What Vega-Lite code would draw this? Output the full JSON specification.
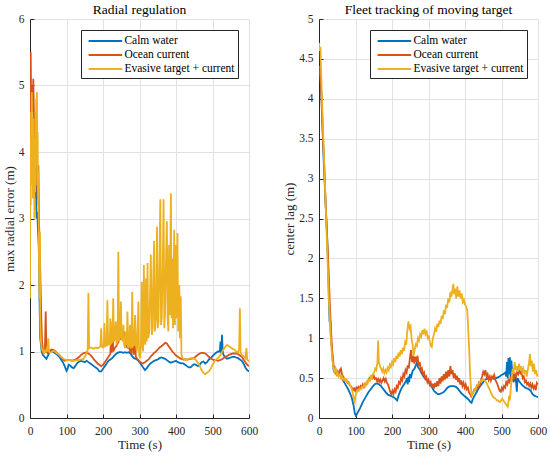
{
  "$schema": "https://vega.github.io/schema/vega-lite/v6.json",
  "padding": {"left": 3, "top": 2, "right": 2, "bottom": 4},
  "spacing": 25,
  "config": {
    "view": {"stroke": null},
    "axis": {"grid": true, "gridColor": "#e2e2e2", "gridWidth": 1, "domainColor": "#262626", "tickColor": "#262626", "tickSize": -4, "labelColor": "#262626", "labelFont": "Liberation Serif, serif", "labelFontSize": 11.5, "titleFont": "Liberation Serif, serif", "titleFontSize": 13, "titleFontWeight": "normal", "titleColor": "#262626", "labelFlush": false, "labelPadding": 10, "titlePadding": 2},
    "axisX": {"labelPadding": 11},
    "title": {"font": "Liberation Serif, serif", "fontSize": 13.5, "fontWeight": "normal", "color": "black", "offset": -3},
    "legend": {"orient": "top-right", "offset": 11, "strokeColor": "#262626", "fillColor": "white", "padding": 3, "symbolType": "M-2.4,0H2.4", "symbolSize": 196, "symbolOffset": 13.4, "labelOffset": 11, "symbolStrokeWidth": 2, "labelFont": "Liberation Serif, serif", "labelFontSize": 11.5, "labelColor": "black", "rowPadding": 0}
  },
  "datasets": {
    "LC": [{"t":0,"v":4.6},{"t":2,"v":3.9},{"t":4,"v":4.4},{"t":6,"v":3.6},{"t":8,"v":4.1},{"t":10,"v":3.5},{"t":12,"v":3.8},{"t":14,"v":3.3},{"t":16,"v":3.6},{"t":18,"v":3.0},{"t":20,"v":3.1},{"t":22,"v":2.8},{"t":24,"v":2.6},{"t":26,"v":1.8},{"t":28,"v":1.2},{"t":30,"v":1.1},{"t":32,"v":1.0},{"t":35,"v":0.95},{"t":40,"v":0.92},{"t":45,"v":0.89},{"t":50,"v":0.95},{"t":55,"v":1.0},{"t":60,"v":1.01},{"t":65,"v":0.99},{"t":70,"v":0.97},{"t":75,"v":0.95},{"t":80,"v":0.92},{"t":85,"v":0.88},{"t":90,"v":0.84},{"t":95,"v":0.78},{"t":100,"v":0.71},{"t":103,"v":0.74},{"t":106,"v":0.8},{"t":110,"v":0.79},{"t":115,"v":0.76},{"t":120,"v":0.75},{"t":125,"v":0.79},{"t":130,"v":0.83},{"t":135,"v":0.85},{"t":140,"v":0.86},{"t":145,"v":0.85},{"t":150,"v":0.84},{"t":155,"v":0.86},{"t":160,"v":0.84},{"t":165,"v":0.82},{"t":170,"v":0.8},{"t":175,"v":0.78},{"t":180,"v":0.76},{"t":185,"v":0.74},{"t":190,"v":0.7},{"t":195,"v":0.7},{"t":200,"v":0.74},{"t":205,"v":0.78},{"t":210,"v":0.82},{"t":215,"v":0.86},{"t":220,"v":0.88},{"t":225,"v":0.9},{"t":230,"v":0.93},{"t":235,"v":0.96},{"t":240,"v":0.98},{"t":245,"v":0.99},{"t":250,"v":0.99},{"t":255,"v":0.98},{"t":260,"v":0.99},{"t":265,"v":0.98},{"t":270,"v":0.99},{"t":275,"v":0.97},{"t":280,"v":0.93},{"t":285,"v":0.9},{"t":290,"v":0.89},{"t":295,"v":0.87},{"t":300,"v":0.84},{"t":305,"v":0.8},{"t":310,"v":0.76},{"t":315,"v":0.72},{"t":320,"v":0.75},{"t":325,"v":0.79},{"t":330,"v":0.82},{"t":335,"v":0.84},{"t":340,"v":0.86},{"t":345,"v":0.87},{"t":350,"v":0.88},{"t":355,"v":0.9},{"t":360,"v":0.91},{"t":365,"v":0.9},{"t":370,"v":0.89},{"t":375,"v":0.87},{"t":380,"v":0.85},{"t":385,"v":0.83},{"t":390,"v":0.84},{"t":395,"v":0.85},{"t":400,"v":0.86},{"t":405,"v":0.84},{"t":410,"v":0.83},{"t":415,"v":0.82},{"t":420,"v":0.82},{"t":425,"v":0.8},{"t":430,"v":0.78},{"t":435,"v":0.76},{"t":440,"v":0.76},{"t":445,"v":0.79},{"t":450,"v":0.81},{"t":455,"v":0.8},{"t":460,"v":0.78},{"t":465,"v":0.8},{"t":470,"v":0.84},{"t":475,"v":0.85},{"t":480,"v":0.82},{"t":485,"v":0.84},{"t":490,"v":0.88},{"t":495,"v":0.9},{"t":500,"v":0.93},{"t":505,"v":0.96},{"t":510,"v":0.98},{"t":515,"v":1.0},{"t":520,"v":1.0},{"t":522,"v":1.15},{"t":524,"v":0.98},{"t":526,"v":1.25},{"t":528,"v":1.0},{"t":530,"v":0.95},{"t":535,"v":0.91},{"t":540,"v":0.89},{"t":545,"v":0.9},{"t":550,"v":0.91},{"t":555,"v":0.92},{"t":560,"v":0.92},{"t":565,"v":0.91},{"t":570,"v":0.9},{"t":575,"v":0.88},{"t":580,"v":0.86},{"t":585,"v":0.82},{"t":590,"v":0.76},{"t":595,"v":0.72},{"t":600,"v":0.7}],
    "LO": [{"t":0,"v":4.0},{"t":2,"v":5.5},{"t":3,"v":4.8},{"t":5,"v":5.0},{"t":7,"v":4.6},{"t":9,"v":5.1},{"t":11,"v":4.5},{"t":13,"v":4.2},{"t":15,"v":4.4},{"t":17,"v":3.9},{"t":19,"v":3.6},{"t":21,"v":3.3},{"t":23,"v":3.8},{"t":25,"v":2.9},{"t":27,"v":2.5},{"t":29,"v":2.0},{"t":31,"v":1.5},{"t":33,"v":1.15},{"t":35,"v":1.05},{"t":38,"v":1.0},{"t":41,"v":1.05},{"t":43,"v":1.6},{"t":45,"v":1.0},{"t":48,"v":0.98},{"t":52,"v":1.0},{"t":56,"v":1.02},{"t":60,"v":1.03},{"t":65,"v":1.02},{"t":70,"v":1.0},{"t":75,"v":0.97},{"t":80,"v":0.95},{"t":85,"v":0.92},{"t":90,"v":0.88},{"t":95,"v":0.86},{"t":100,"v":0.87},{"t":105,"v":0.87},{"t":110,"v":0.87},{"t":115,"v":0.86},{"t":120,"v":0.87},{"t":125,"v":0.88},{"t":130,"v":0.9},{"t":135,"v":0.92},{"t":140,"v":0.95},{"t":145,"v":0.97},{"t":150,"v":0.98},{"t":155,"v":0.99},{"t":160,"v":0.97},{"t":165,"v":0.95},{"t":170,"v":0.92},{"t":175,"v":0.88},{"t":180,"v":0.85},{"t":185,"v":0.82},{"t":190,"v":0.8},{"t":195,"v":0.78},{"t":200,"v":0.8},{"t":205,"v":0.84},{"t":210,"v":0.88},{"t":215,"v":0.92},{"t":220,"v":0.96},{"t":222,"v":1.2},{"t":224,"v":0.98},{"t":226,"v":1.45},{"t":228,"v":1.0},{"t":232,"v":1.05},{"t":236,"v":1.08},{"t":240,"v":1.12},{"t":245,"v":1.18},{"t":250,"v":1.2},{"t":255,"v":1.17},{"t":258,"v":1.3},{"t":260,"v":1.12},{"t":265,"v":1.07},{"t":270,"v":1.05},{"t":272,"v":1.25},{"t":274,"v":1.0},{"t":278,"v":0.98},{"t":282,"v":1.3},{"t":284,"v":0.95},{"t":288,"v":1.15},{"t":290,"v":0.92},{"t":295,"v":0.88},{"t":300,"v":0.85},{"t":305,"v":0.83},{"t":310,"v":0.82},{"t":315,"v":0.84},{"t":320,"v":0.86},{"t":325,"v":0.88},{"t":330,"v":0.92},{"t":335,"v":0.95},{"t":340,"v":0.98},{"t":345,"v":1.0},{"t":350,"v":1.03},{"t":355,"v":1.06},{"t":360,"v":1.08},{"t":365,"v":1.1},{"t":370,"v":1.13},{"t":375,"v":1.12},{"t":380,"v":1.08},{"t":385,"v":1.04},{"t":390,"v":1.0},{"t":395,"v":0.97},{"t":400,"v":0.94},{"t":405,"v":0.92},{"t":410,"v":0.9},{"t":415,"v":0.89},{"t":420,"v":0.88},{"t":430,"v":0.88},{"t":440,"v":0.89},{"t":450,"v":0.9},{"t":455,"v":0.93},{"t":460,"v":0.95},{"t":465,"v":0.97},{"t":470,"v":0.98},{"t":475,"v":0.98},{"t":480,"v":0.97},{"t":485,"v":0.95},{"t":490,"v":0.92},{"t":495,"v":0.9},{"t":500,"v":0.88},{"t":505,"v":0.87},{"t":510,"v":0.87},{"t":515,"v":0.86},{"t":520,"v":0.87},{"t":525,"v":0.88},{"t":530,"v":0.9},{"t":535,"v":0.92},{"t":540,"v":0.93},{"t":545,"v":0.95},{"t":550,"v":0.96},{"t":555,"v":0.97},{"t":560,"v":0.97},{"t":565,"v":0.97},{"t":570,"v":0.96},{"t":575,"v":0.94},{"t":580,"v":0.92},{"t":585,"v":0.88},{"t":590,"v":0.84},{"t":595,"v":0.8},{"t":600,"v":0.78}],
    "LE": [{"t":0,"v":1.8},{"t":1,"v":4.2},{"t":2,"v":3.2},{"t":3,"v":4.6},{"t":4,"v":3.5},{"t":5,"v":4.9},{"t":6,"v":3.8},{"t":7,"v":4.4},{"t":8,"v":3.3},{"t":9,"v":4.5},{"t":10,"v":3.6},{"t":11,"v":4.2},{"t":12,"v":3.0},{"t":13,"v":4.0},{"t":14,"v":3.4},{"t":15,"v":4.6},{"t":16,"v":3.5},{"t":17,"v":4.8},{"t":18,"v":4.0},{"t":19,"v":4.9},{"t":20,"v":3.8},{"t":21,"v":4.3},{"t":22,"v":3.2},{"t":23,"v":3.7},{"t":24,"v":2.6},{"t":25,"v":2.2},{"t":26,"v":1.8},{"t":27,"v":2.8},{"t":28,"v":1.5},{"t":29,"v":1.3},{"t":30,"v":1.15},{"t":32,"v":1.05},{"t":35,"v":1.0},{"t":38,"v":1.02},{"t":40,"v":0.98},{"t":43,"v":1.0},{"t":46,"v":1.05},{"t":48,"v":1.0},{"t":50,"v":1.2},{"t":52,"v":1.0},{"t":55,"v":0.98},{"t":60,"v":1.0},{"t":65,"v":1.01},{"t":70,"v":0.99},{"t":75,"v":0.97},{"t":80,"v":0.95},{"t":85,"v":0.92},{"t":90,"v":0.9},{"t":95,"v":0.88},{"t":100,"v":0.87},{"t":110,"v":0.87},{"t":120,"v":0.86},{"t":130,"v":0.87},{"t":140,"v":0.88},{"t":145,"v":0.88},{"t":150,"v":0.92},{"t":155,"v":0.98},{"t":158,"v":1.02},{"t":160,"v":1.88},{"t":162,"v":1.05},{"t":165,"v":1.06},{"t":170,"v":1.05},{"t":175,"v":1.04},{"t":180,"v":1.06},{"t":185,"v":1.05},{"t":190,"v":1.06},{"t":193,"v":1.08},{"t":195,"v":1.35},{"t":197,"v":1.07},{"t":200,"v":1.06},{"t":202,"v":1.1},{"t":204,"v":1.43},{"t":206,"v":1.08},{"t":210,"v":1.1},{"t":212,"v":1.77},{"t":214,"v":1.1},{"t":218,"v":1.12},{"t":220,"v":1.5},{"t":222,"v":1.12},{"t":226,"v":1.15},{"t":228,"v":1.8},{"t":230,"v":1.15},{"t":233,"v":1.2},{"t":235,"v":1.45},{"t":237,"v":1.1},{"t":240,"v":1.2},{"t":242,"v":2.5},{"t":244,"v":1.15},{"t":247,"v":1.25},{"t":249,"v":1.75},{"t":251,"v":1.2},{"t":254,"v":1.15},{"t":256,"v":1.4},{"t":258,"v":1.1},{"t":261,"v":1.05},{"t":263,"v":1.3},{"t":265,"v":1.1},{"t":267,"v":1.6},{"t":269,"v":1.05},{"t":272,"v":1.1},{"t":274,"v":1.4},{"t":276,"v":1.05},{"t":278,"v":1.08},{"t":280,"v":1.9},{"t":282,"v":1.08},{"t":285,"v":1.1},{"t":288,"v":1.55},{"t":290,"v":1.1},{"t":293,"v":1.0},{"t":297,"v":1.75},{"t":299,"v":0.95},{"t":302,"v":0.9},{"t":304,"v":1.1},{"t":306,"v":2.05},{"t":308,"v":1.1},{"t":310,"v":1.0},{"t":312,"v":2.3},{"t":314,"v":1.2},{"t":316,"v":1.1},{"t":318,"v":2.1},{"t":320,"v":1.15},{"t":322,"v":2.33},{"t":324,"v":1.2},{"t":327,"v":1.3},{"t":331,"v":2.46},{"t":334,"v":1.25},{"t":336,"v":1.35},{"t":338,"v":2.2},{"t":340,"v":2.66},{"t":342,"v":1.3},{"t":345,"v":1.5},{"t":348,"v":2.88},{"t":350,"v":1.35},{"t":352,"v":1.45},{"t":355,"v":2.5},{"t":357,"v":3.29},{"t":359,"v":1.4},{"t":361,"v":1.5},{"t":364,"v":2.4},{"t":366,"v":3.29},{"t":368,"v":1.35},{"t":370,"v":1.6},{"t":373,"v":2.5},{"t":375,"v":2.96},{"t":377,"v":1.5},{"t":379,"v":1.3},{"t":381,"v":2.6},{"t":383,"v":1.55},{"t":386,"v":3.38},{"t":388,"v":1.5},{"t":390,"v":2.4},{"t":392,"v":1.35},{"t":395,"v":2.83},{"t":397,"v":1.4},{"t":399,"v":2.6},{"t":401,"v":1.5},{"t":404,"v":2.78},{"t":406,"v":1.3},{"t":409,"v":2.0},{"t":411,"v":1.2},{"t":413,"v":1.83},{"t":415,"v":0.95},{"t":418,"v":0.9},{"t":420,"v":0.89},{"t":425,"v":0.88},{"t":430,"v":0.88},{"t":435,"v":0.89},{"t":440,"v":0.9},{"t":445,"v":0.9},{"t":450,"v":0.89},{"t":455,"v":0.87},{"t":460,"v":0.83},{"t":465,"v":0.78},{"t":470,"v":0.72},{"t":475,"v":0.68},{"t":480,"v":0.66},{"t":485,"v":0.68},{"t":490,"v":0.7},{"t":495,"v":0.74},{"t":500,"v":0.8},{"t":505,"v":0.85},{"t":510,"v":0.88},{"t":515,"v":0.9},{"t":520,"v":0.93},{"t":525,"v":0.98},{"t":530,"v":1.03},{"t":535,"v":1.07},{"t":540,"v":1.1},{"t":545,"v":1.08},{"t":550,"v":1.06},{"t":555,"v":1.04},{"t":560,"v":1.03},{"t":565,"v":1.0},{"t":570,"v":0.98},{"t":573,"v":1.05},{"t":575,"v":1.65},{"t":577,"v":0.98},{"t":580,"v":0.95},{"t":585,"v":0.93},{"t":590,"v":0.9},{"t":593,"v":1.05},{"t":595,"v":0.88},{"t":598,"v":0.86},{"t":600,"v":0.85}],
    "RC": [{"t":0,"v":4.3},{"t":3,"v":4.35},{"t":5,"v":4.2},{"t":8,"v":3.9},{"t":10,"v":3.6},{"t":13,"v":3.2},{"t":16,"v":2.9},{"t":19,"v":2.6},{"t":22,"v":2.3},{"t":25,"v":1.9},{"t":27,"v":1.5},{"t":29,"v":1.2},{"t":31,"v":1.22},{"t":33,"v":0.95},{"t":35,"v":0.9},{"t":37,"v":0.75},{"t":40,"v":0.6},{"t":43,"v":0.57},{"t":46,"v":0.56},{"t":50,"v":0.55},{"t":55,"v":0.54},{"t":60,"v":0.52},{"t":65,"v":0.48},{"t":70,"v":0.44},{"t":75,"v":0.4},{"t":80,"v":0.36},{"t":85,"v":0.31},{"t":90,"v":0.25},{"t":95,"v":0.15},{"t":98,"v":0.06},{"t":101,"v":0.03},{"t":104,"v":0.05},{"t":107,"v":0.08},{"t":110,"v":0.1},{"t":115,"v":0.15},{"t":120,"v":0.2},{"t":125,"v":0.24},{"t":130,"v":0.28},{"t":135,"v":0.32},{"t":140,"v":0.35},{"t":145,"v":0.38},{"t":150,"v":0.41},{"t":155,"v":0.43},{"t":160,"v":0.43},{"t":165,"v":0.42},{"t":170,"v":0.4},{"t":175,"v":0.37},{"t":180,"v":0.34},{"t":185,"v":0.31},{"t":190,"v":0.29},{"t":195,"v":0.28},{"t":200,"v":0.27},{"t":205,"v":0.26},{"t":210,"v":0.24},{"t":214,"v":0.22},{"t":218,"v":0.28},{"t":222,"v":0.33},{"t":226,"v":0.37},{"t":230,"v":0.4},{"t":234,"v":0.43},{"t":238,"v":0.46},{"t":241,"v":0.5},{"t":243,"v":0.42},{"t":245,"v":0.52},{"t":247,"v":0.45},{"t":249,"v":0.55},{"t":252,"v":0.5},{"t":255,"v":0.57},{"t":258,"v":0.6},{"t":262,"v":0.62},{"t":265,"v":0.66},{"t":268,"v":0.69},{"t":271,"v":0.64},{"t":274,"v":0.62},{"t":277,"v":0.6},{"t":280,"v":0.57},{"t":285,"v":0.53},{"t":290,"v":0.5},{"t":295,"v":0.47},{"t":300,"v":0.45},{"t":305,"v":0.42},{"t":310,"v":0.38},{"t":315,"v":0.34},{"t":320,"v":0.32},{"t":325,"v":0.3},{"t":330,"v":0.3},{"t":335,"v":0.31},{"t":340,"v":0.32},{"t":345,"v":0.34},{"t":350,"v":0.37},{"t":355,"v":0.39},{"t":360,"v":0.4},{"t":365,"v":0.4},{"t":370,"v":0.4},{"t":375,"v":0.39},{"t":380,"v":0.37},{"t":385,"v":0.34},{"t":390,"v":0.31},{"t":395,"v":0.29},{"t":400,"v":0.27},{"t":405,"v":0.25},{"t":410,"v":0.23},{"t":415,"v":0.2},{"t":418,"v":0.19},{"t":421,"v":0.23},{"t":425,"v":0.27},{"t":430,"v":0.31},{"t":435,"v":0.35},{"t":440,"v":0.39},{"t":445,"v":0.42},{"t":450,"v":0.45},{"t":455,"v":0.48},{"t":460,"v":0.49},{"t":465,"v":0.5},{"t":470,"v":0.5},{"t":475,"v":0.5},{"t":480,"v":0.49},{"t":485,"v":0.5},{"t":490,"v":0.51},{"t":495,"v":0.52},{"t":500,"v":0.54},{"t":505,"v":0.55},{"t":510,"v":0.57},{"t":513,"v":0.52},{"t":515,"v":0.7},{"t":517,"v":0.5},{"t":519,"v":0.75},{"t":521,"v":0.55},{"t":523,"v":0.76},{"t":525,"v":0.5},{"t":527,"v":0.72},{"t":529,"v":0.6},{"t":531,"v":0.62},{"t":533,"v":0.45},{"t":536,"v":0.48},{"t":539,"v":0.5},{"t":542,"v":0.33},{"t":544,"v":0.5},{"t":547,"v":0.47},{"t":550,"v":0.45},{"t":555,"v":0.42},{"t":560,"v":0.4},{"t":565,"v":0.38},{"t":570,"v":0.37},{"t":575,"v":0.36},{"t":580,"v":0.34},{"t":585,"v":0.3},{"t":590,"v":0.28},{"t":595,"v":0.27},{"t":600,"v":0.26}],
    "RO": [{"t":0,"v":4.4},{"t":3,"v":4.4},{"t":6,"v":4.1},{"t":9,"v":3.7},{"t":12,"v":3.4},{"t":15,"v":3.1},{"t":18,"v":2.7},{"t":21,"v":2.4},{"t":24,"v":2.1},{"t":27,"v":1.75},{"t":30,"v":1.4},{"t":33,"v":1.1},{"t":36,"v":0.85},{"t":39,"v":0.7},{"t":42,"v":0.6},{"t":45,"v":0.62},{"t":48,"v":0.55},{"t":51,"v":0.58},{"t":54,"v":0.52},{"t":57,"v":0.6},{"t":60,"v":0.62},{"t":63,"v":0.55},{"t":66,"v":0.52},{"t":69,"v":0.5},{"t":72,"v":0.47},{"t":75,"v":0.48},{"t":78,"v":0.44},{"t":81,"v":0.45},{"t":84,"v":0.41},{"t":87,"v":0.4},{"t":90,"v":0.38},{"t":93,"v":0.35},{"t":96,"v":0.37},{"t":99,"v":0.34},{"t":102,"v":0.38},{"t":105,"v":0.36},{"t":108,"v":0.39},{"t":111,"v":0.37},{"t":114,"v":0.4},{"t":117,"v":0.38},{"t":120,"v":0.42},{"t":123,"v":0.39},{"t":126,"v":0.43},{"t":129,"v":0.42},{"t":132,"v":0.45},{"t":135,"v":0.47},{"t":138,"v":0.5},{"t":141,"v":0.48},{"t":144,"v":0.52},{"t":147,"v":0.5},{"t":150,"v":0.53},{"t":153,"v":0.49},{"t":156,"v":0.5},{"t":159,"v":0.46},{"t":162,"v":0.49},{"t":165,"v":0.45},{"t":168,"v":0.48},{"t":171,"v":0.44},{"t":174,"v":0.47},{"t":177,"v":0.5},{"t":180,"v":0.46},{"t":183,"v":0.49},{"t":186,"v":0.44},{"t":189,"v":0.42},{"t":192,"v":0.38},{"t":195,"v":0.33},{"t":198,"v":0.3},{"t":201,"v":0.34},{"t":204,"v":0.3},{"t":207,"v":0.36},{"t":210,"v":0.33},{"t":213,"v":0.4},{"t":216,"v":0.38},{"t":219,"v":0.45},{"t":222,"v":0.43},{"t":225,"v":0.5},{"t":228,"v":0.47},{"t":231,"v":0.55},{"t":234,"v":0.52},{"t":237,"v":0.6},{"t":240,"v":0.57},{"t":243,"v":0.66},{"t":246,"v":0.62},{"t":249,"v":0.75},{"t":252,"v":0.85},{"t":255,"v":0.7},{"t":258,"v":0.78},{"t":261,"v":0.68},{"t":264,"v":0.77},{"t":267,"v":0.7},{"t":270,"v":0.78},{"t":273,"v":0.65},{"t":276,"v":0.7},{"t":279,"v":0.6},{"t":282,"v":0.62},{"t":285,"v":0.55},{"t":288,"v":0.57},{"t":291,"v":0.5},{"t":294,"v":0.52},{"t":297,"v":0.45},{"t":300,"v":0.48},{"t":303,"v":0.42},{"t":306,"v":0.45},{"t":309,"v":0.38},{"t":312,"v":0.43},{"t":315,"v":0.37},{"t":318,"v":0.44},{"t":321,"v":0.39},{"t":324,"v":0.46},{"t":327,"v":0.4},{"t":330,"v":0.5},{"t":333,"v":0.43},{"t":336,"v":0.52},{"t":339,"v":0.46},{"t":342,"v":0.55},{"t":345,"v":0.48},{"t":348,"v":0.58},{"t":351,"v":0.5},{"t":354,"v":0.6},{"t":357,"v":0.52},{"t":360,"v":0.65},{"t":363,"v":0.55},{"t":366,"v":0.6},{"t":369,"v":0.5},{"t":372,"v":0.56},{"t":375,"v":0.48},{"t":378,"v":0.53},{"t":381,"v":0.45},{"t":384,"v":0.5},{"t":387,"v":0.42},{"t":390,"v":0.47},{"t":393,"v":0.4},{"t":396,"v":0.44},{"t":399,"v":0.38},{"t":402,"v":0.42},{"t":405,"v":0.36},{"t":408,"v":0.38},{"t":411,"v":0.32},{"t":414,"v":0.3},{"t":417,"v":0.27},{"t":420,"v":0.3},{"t":423,"v":0.33},{"t":426,"v":0.36},{"t":429,"v":0.35},{"t":432,"v":0.4},{"t":435,"v":0.38},{"t":438,"v":0.44},{"t":441,"v":0.42},{"t":444,"v":0.48},{"t":447,"v":0.52},{"t":450,"v":0.58},{"t":453,"v":0.55},{"t":456,"v":0.6},{"t":459,"v":0.52},{"t":462,"v":0.55},{"t":465,"v":0.48},{"t":468,"v":0.52},{"t":471,"v":0.47},{"t":474,"v":0.52},{"t":477,"v":0.5},{"t":480,"v":0.54},{"t":483,"v":0.48},{"t":486,"v":0.45},{"t":489,"v":0.42},{"t":492,"v":0.38},{"t":495,"v":0.34},{"t":498,"v":0.33},{"t":501,"v":0.38},{"t":504,"v":0.35},{"t":507,"v":0.4},{"t":510,"v":0.38},{"t":513,"v":0.45},{"t":516,"v":0.42},{"t":519,"v":0.48},{"t":522,"v":0.45},{"t":525,"v":0.5},{"t":528,"v":0.47},{"t":531,"v":0.52},{"t":534,"v":0.5},{"t":537,"v":0.55},{"t":540,"v":0.52},{"t":543,"v":0.58},{"t":546,"v":0.55},{"t":549,"v":0.6},{"t":552,"v":0.56},{"t":555,"v":0.58},{"t":558,"v":0.5},{"t":561,"v":0.52},{"t":564,"v":0.45},{"t":567,"v":0.47},{"t":570,"v":0.42},{"t":573,"v":0.44},{"t":576,"v":0.4},{"t":579,"v":0.43},{"t":582,"v":0.38},{"t":585,"v":0.42},{"t":588,"v":0.37},{"t":591,"v":0.4},{"t":594,"v":0.35},{"t":597,"v":0.44},{"t":600,"v":0.42}],
    "RE": [{"t":0,"v":4.7},{"t":2,"v":4.6},{"t":4,"v":4.65},{"t":6,"v":4.3},{"t":9,"v":3.9},{"t":12,"v":3.5},{"t":15,"v":3.1},{"t":18,"v":2.7},{"t":21,"v":2.3},{"t":24,"v":1.9},{"t":27,"v":1.5},{"t":30,"v":1.2},{"t":33,"v":0.95},{"t":36,"v":0.75},{"t":39,"v":0.65},{"t":42,"v":0.58},{"t":45,"v":0.62},{"t":48,"v":0.55},{"t":51,"v":0.57},{"t":54,"v":0.52},{"t":57,"v":0.54},{"t":60,"v":0.5},{"t":63,"v":0.52},{"t":66,"v":0.48},{"t":69,"v":0.5},{"t":72,"v":0.47},{"t":75,"v":0.48},{"t":78,"v":0.45},{"t":81,"v":0.44},{"t":84,"v":0.42},{"t":87,"v":0.4},{"t":90,"v":0.36},{"t":93,"v":0.3},{"t":96,"v":0.22},{"t":98,"v":0.2},{"t":100,"v":0.28},{"t":103,"v":0.32},{"t":106,"v":0.35},{"t":109,"v":0.34},{"t":112,"v":0.37},{"t":115,"v":0.36},{"t":118,"v":0.39},{"t":121,"v":0.38},{"t":124,"v":0.42},{"t":127,"v":0.4},{"t":130,"v":0.45},{"t":133,"v":0.43},{"t":136,"v":0.48},{"t":139,"v":0.47},{"t":142,"v":0.52},{"t":145,"v":0.5},{"t":148,"v":0.55},{"t":151,"v":0.57},{"t":154,"v":0.62},{"t":157,"v":0.6},{"t":160,"v":0.7},{"t":162,"v":0.97},{"t":164,"v":0.7},{"t":167,"v":0.65},{"t":170,"v":0.62},{"t":173,"v":0.58},{"t":176,"v":0.62},{"t":179,"v":0.56},{"t":182,"v":0.6},{"t":185,"v":0.57},{"t":188,"v":0.63},{"t":191,"v":0.6},{"t":194,"v":0.67},{"t":197,"v":0.64},{"t":200,"v":0.7},{"t":203,"v":0.67},{"t":206,"v":0.75},{"t":209,"v":0.7},{"t":212,"v":0.78},{"t":215,"v":0.74},{"t":218,"v":0.82},{"t":221,"v":0.77},{"t":224,"v":0.85},{"t":227,"v":0.8},{"t":230,"v":0.88},{"t":233,"v":0.84},{"t":236,"v":0.95},{"t":239,"v":0.92},{"t":242,"v":1.1},{"t":245,"v":1.21},{"t":248,"v":1.12},{"t":251,"v":1.15},{"t":254,"v":0.98},{"t":257,"v":0.9},{"t":259,"v":0.78},{"t":262,"v":0.85},{"t":265,"v":0.92},{"t":268,"v":0.9},{"t":271,"v":1.0},{"t":274,"v":0.97},{"t":277,"v":1.05},{"t":280,"v":1.02},{"t":283,"v":1.1},{"t":286,"v":1.05},{"t":289,"v":1.12},{"t":292,"v":1.05},{"t":295,"v":1.08},{"t":298,"v":1.0},{"t":301,"v":1.02},{"t":304,"v":0.95},{"t":307,"v":0.9},{"t":309,"v":0.89},{"t":312,"v":1.0},{"t":315,"v":1.05},{"t":318,"v":1.12},{"t":321,"v":1.08},{"t":324,"v":1.18},{"t":327,"v":1.14},{"t":330,"v":1.22},{"t":333,"v":1.18},{"t":336,"v":1.28},{"t":339,"v":1.24},{"t":342,"v":1.35},{"t":345,"v":1.3},{"t":348,"v":1.42},{"t":351,"v":1.38},{"t":354,"v":1.5},{"t":357,"v":1.45},{"t":360,"v":1.58},{"t":363,"v":1.52},{"t":366,"v":1.62},{"t":368,"v":1.68},{"t":370,"v":1.55},{"t":373,"v":1.62},{"t":376,"v":1.5},{"t":379,"v":1.65},{"t":382,"v":1.52},{"t":385,"v":1.6},{"t":388,"v":1.5},{"t":391,"v":1.56},{"t":394,"v":1.45},{"t":397,"v":1.48},{"t":400,"v":1.42},{"t":403,"v":1.4},{"t":406,"v":1.35},{"t":408,"v":1.2},{"t":410,"v":1.0},{"t":412,"v":0.8},{"t":414,"v":0.55},{"t":416,"v":0.4},{"t":418,"v":0.27},{"t":421,"v":0.3},{"t":424,"v":0.33},{"t":427,"v":0.35},{"t":430,"v":0.38},{"t":433,"v":0.4},{"t":436,"v":0.42},{"t":439,"v":0.44},{"t":442,"v":0.46},{"t":445,"v":0.47},{"t":448,"v":0.48},{"t":451,"v":0.48},{"t":454,"v":0.47},{"t":457,"v":0.45},{"t":460,"v":0.43},{"t":463,"v":0.4},{"t":466,"v":0.37},{"t":469,"v":0.34},{"t":472,"v":0.31},{"t":475,"v":0.28},{"t":478,"v":0.26},{"t":481,"v":0.25},{"t":484,"v":0.24},{"t":487,"v":0.22},{"t":490,"v":0.22},{"t":493,"v":0.21},{"t":496,"v":0.2},{"t":499,"v":0.22},{"t":502,"v":0.24},{"t":505,"v":0.22},{"t":508,"v":0.2},{"t":511,"v":0.18},{"t":514,"v":0.16},{"t":517,"v":0.14},{"t":519,"v":0.2},{"t":521,"v":0.28},{"t":523,"v":0.22},{"t":525,"v":0.35},{"t":527,"v":0.45},{"t":529,"v":0.55},{"t":531,"v":0.62},{"t":533,"v":0.55},{"t":536,"v":0.7},{"t":539,"v":0.6},{"t":542,"v":0.65},{"t":545,"v":0.58},{"t":548,"v":0.68},{"t":551,"v":0.6},{"t":554,"v":0.65},{"t":557,"v":0.58},{"t":560,"v":0.62},{"t":563,"v":0.55},{"t":566,"v":0.6},{"t":569,"v":0.52},{"t":572,"v":0.6},{"t":575,"v":0.68},{"t":578,"v":0.8},{"t":580,"v":0.65},{"t":583,"v":0.72},{"t":586,"v":0.58},{"t":589,"v":0.68},{"t":592,"v":0.55},{"t":595,"v":0.6},{"t":598,"v":0.52},{"t":600,"v":0.55}]
  },
  "hconcat": [
    {
      "title": "Radial regulation",
      "width": 219,
      "height": 399,
      "encoding": {
        "x": {"field": "t", "type": "quantitative", "scale": {"domain": [0, 600]}, "axis": {"title": "Time (s)", "values": [0, 100, 200, 300, 400, 500, 600], "labelExpr": "'' + datum.value"}},
        "y": {"field": "v", "type": "quantitative", "scale": {"domain": [0, 6]}, "axis": {"title": "max radial error (m)", "values": [0, 1, 2, 3, 4, 5, 6], "labelExpr": "'' + datum.value"}}
      },
      "layer": [
        {"data": {"name": "LC"}, "mark": {"type": "line", "strokeWidth": 1.8, "clip": true}, "encoding": {"color": {"datum": "Calm water", "type": "nominal", "scale": {"domain": ["Calm water", "Ocean current", "Evasive target + current"], "range": ["#0072BD", "#D95319", "#EDB120"]}, "legend": {"title": null}}}},
        {"data": {"name": "LO"}, "mark": {"type": "line", "strokeWidth": 1.8, "clip": true}, "encoding": {"color": {"datum": "Ocean current", "type": "nominal"}}},
        {"data": {"name": "LE"}, "mark": {"type": "line", "strokeWidth": 1.8, "clip": true}, "encoding": {"color": {"datum": "Evasive target + current", "type": "nominal"}}}
      ]
    },
    {
      "title": "Fleet tracking of moving target",
      "width": 219,
      "height": 399,
      "encoding": {
        "x": {"field": "t", "type": "quantitative", "scale": {"domain": [0, 600]}, "axis": {"title": "Time (s)", "values": [0, 100, 200, 300, 400, 500, 600], "labelExpr": "'' + datum.value"}},
        "y": {"field": "v", "type": "quantitative", "scale": {"domain": [0, 5]}, "axis": {"title": "center lag (m)", "values": [0, 0.5, 1, 1.5, 2, 2.5, 3, 3.5, 4, 4.5, 5], "labelExpr": "'' + datum.value"}}
      },
      "layer": [
        {"data": {"name": "RC"}, "mark": {"type": "line", "strokeWidth": 1.8, "clip": true}, "encoding": {"color": {"datum": "Calm water", "type": "nominal", "scale": {"domain": ["Calm water", "Ocean current", "Evasive target + current"], "range": ["#0072BD", "#D95319", "#EDB120"]}, "legend": {"title": null}}}},
        {"data": {"name": "RO"}, "mark": {"type": "line", "strokeWidth": 1.8, "clip": true}, "encoding": {"color": {"datum": "Ocean current", "type": "nominal"}}},
        {"data": {"name": "RE"}, "mark": {"type": "line", "strokeWidth": 1.8, "clip": true}, "encoding": {"color": {"datum": "Evasive target + current", "type": "nominal"}}}
      ]
    }
  ],
  "resolve": {"legend": {"color": "independent"}}
}
